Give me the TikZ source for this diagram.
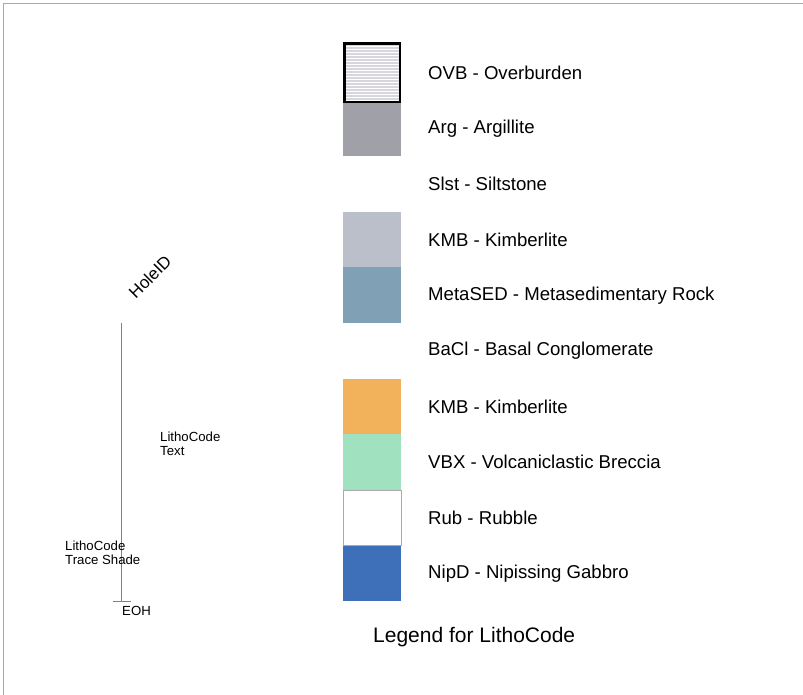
\documentclass[tikz,border=0pt]{standalone}
\usepackage{fontspec}
\setmainfont{Liberation Sans}
\usetikzlibrary{patterns}

\definecolor{argcol}{RGB}{160,161,168}
\definecolor{kmbcol}{RGB}{187,191,202}
\definecolor{metacol}{RGB}{128,160,182}
\definecolor{kmborange}{RGB}{242,178,92}
\definecolor{vbxcol}{RGB}{160,226,192}
\definecolor{nipcol}{RGB}{62,112,186}
\definecolor{ovbcol}{RGB}{214,214,220}
\definecolor{framecol}{RGB}{170,170,170}

\tikzset{
    swatch/.style={minimum width=58pt, minimum height=55.6pt, inner sep=0pt, outer sep=0pt},
    entry/.style={anchor=west, inner sep=0pt, font=\fontsize{18.6}{21}\selectfont},
    smalltext/.style={align=left, inner sep=0pt, font=\fontsize{13.2}{14.5}\selectfont}
}

\begin{document}
\begin{tikzpicture}[x=1pt, y=-1pt]
        \useasboundingbox (0,0) rectangle (803,695);
        \draw[framecol, thick] (3,695) -- (3,3) -- (803,3);
        % hole trace
        \coordinate (top) at (121,323);
        \coordinate (eoh) at (121,601);
        \draw[gray, thin] (top) -- (eoh);
        \draw[gray, thin] (113,601) -- (131,601);
        \node[rotate=45, inner sep=0pt, font=\fontsize{17}{19}\selectfont] (holeid) at (150,277) {HoleID};
        \node[smalltext, anchor=north west] (eohlbl) at (122,606) {EOH};
        \node[smalltext, anchor=west] (ctext) at (160,444) {LithoCode\\Text};
        \node[smalltext, anchor=west] (cshade) at (65,553) {LithoCode\\Trace Shade};
        % legend swatches
        \foreach \i/\col/\txt in {1/ovbcol/OVB - Overburden,
                                  2/argcol/Arg - Argillite,
                                  3/white/Slst - Siltstone,
                                  4/kmbcol/KMB - Kimberlite,
                                  5/metacol/MetaSED - Metasedimentary Rock,
                                  6/white/BaCl - Basal Conglomerate,
                                  7/kmborange/KMB - Kimberlite,
                                  8/vbxcol/VBX - Volcaniclastic Breccia,
                                  9/white/Rub - Rubble,
                                  10/nipcol/NipD - Nipissing Gabbro}
        {
            \node[swatch, fill=\col] (sw\i) at (372, 45+55.6*\i-27.8) {};
            \node[entry] (lbl\i) at (428, 45+55.6*\i-27.8) {\txt};
        }
        \fill[pattern=horizontal lines, pattern color=white] (sw1.north west) rectangle (sw1.south east);
        \draw[line width=2.5pt] ([shift={(1.25,-1.25)}]sw1.north west) rectangle ([shift={(-1.25,1.25)}]sw1.south east);
        \draw[framecol] (sw9.north west) rectangle (sw9.south east);
        \node[anchor=west, inner sep=0pt, font=\fontsize{21}{24}\selectfont] (title) at (373,637) {Legend for LithoCode};
    \end{tikzpicture}
\end{document}
